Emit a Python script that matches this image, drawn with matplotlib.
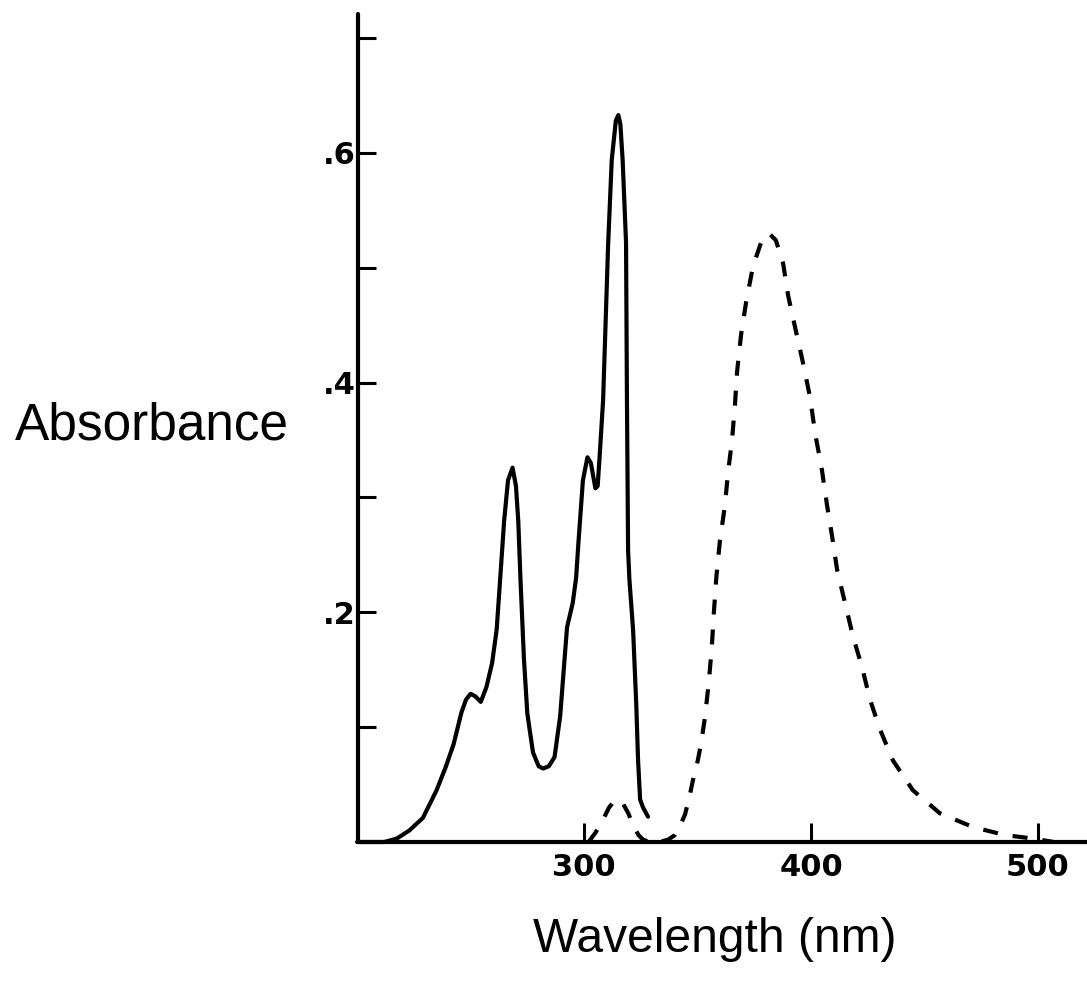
import matplotlib
matplotlib.use("Agg")
import matplotlib.pyplot as plt
from matplotlib.ticker import FixedLocator, FixedFormatter

# --- data ---
solid_wl = [200, 212, 217.5, 223, 229, 235, 239, 242.5, 246, 248, 250, 252, 254.5, 257,
            259.5, 261.5, 263, 264.8, 266.5, 268.5, 270, 271, 272, 273.5, 275, 277.5, 280,
            282, 284.5, 287, 289.5, 290.7, 292.5, 295, 296.5, 297.5, 299.5, 301.5, 303, 305,
            306, 307, 308.4, 310.6, 312.2, 314, 315.1, 316, 317.0, 318.5, 318.9, 319.4, 320,
            321.6, 323, 323.8, 324.7, 326, 328.2]
solid_abs = [0, 0, 0.003, 0.01, 0.021, 0.045, 0.065, 0.085, 0.113, 0.124, 0.129, 0.127,
             0.122, 0.135, 0.156, 0.185, 0.228, 0.28, 0.315, 0.326, 0.31, 0.28, 0.228, 0.16,
             0.112, 0.078, 0.066, 0.064, 0.066, 0.074, 0.11, 0.141, 0.187, 0.208, 0.23, 0.26,
             0.315, 0.335, 0.33, 0.308, 0.31, 0.34, 0.385, 0.52, 0.594, 0.628, 0.633, 0.625,
             0.594, 0.522, 0.385, 0.254, 0.228, 0.185, 0.12, 0.071, 0.037, 0.03, 0.022]

dashed_wl = [302, 305, 308, 311, 313, 315, 317, 319.5, 321.5, 324, 326, 329, 333, 337, 340,
             342, 344.5, 346.5, 348, 350, 351.5, 353.3, 355, 356.3, 357.2, 358.3, 359.9, 362,
             363.4, 365.2, 366.5, 367.4, 369.2, 371.4, 374.4, 378, 381.5, 384.5, 387.7, 389.9,
             393, 396.5, 399.6, 401.8, 404.8, 407, 409.3, 411.5, 415, 418.5, 422.5, 426, 430.4,
             436.1, 444.9, 456.8, 471.4, 485.5, 497.8, 507]
dashed_abs = [0, 0.008, 0.018, 0.03, 0.035, 0.037, 0.034, 0.025, 0.015, 0.006, 0.002, 0, 0,
              0.002, 0.006, 0.013, 0.024, 0.04, 0.054, 0.07, 0.085, 0.109, 0.14, 0.17, 0.2,
              0.231, 0.263, 0.292, 0.321, 0.35, 0.381, 0.409, 0.442, 0.47, 0.501, 0.522, 0.53,
              0.524, 0.504, 0.476, 0.448, 0.417, 0.387, 0.356, 0.324, 0.294, 0.266, 0.237,
              0.208, 0.179, 0.152, 0.124, 0.098, 0.071, 0.045, 0.025, 0.013, 0.006, 0.003, 0]

x_ticks = [300, 400, 500]
x_labels = ["300", "400", "500"]
y_ticks = [0.1, 0.2, 0.3, 0.4, 0.5, 0.6, 0.7]
y_labels = ["", ".2", "", ".4", "", ".6", ""]

W, H = 1087, 981
fig = plt.figure(figsize=(W / 100, H / 100), dpi=100)
ax = fig.add_axes([358 / W, 1 - 842 / H, 1 - 358 / W, (842 - 14) / H])

ax.plot(solid_wl, solid_abs, color="black", lw=3.0, solid_joinstyle="round",
        solid_capstyle="round", clip_on=False)
ax.plot(dashed_wl, dashed_abs, color="black", lw=3.0, dashes=(3.6, 3.6),
        dash_capstyle="butt", clip_on=False)

ax.set_xlim(200.4, 521.6)
ax.set_ylim(0, 0.721)

for s in ["top", "right"]:
    ax.spines[s].set_visible(False)
for s in ["left", "bottom"]:
    ax.spines[s].set_linewidth(3.0)
    ax.spines[s].set_capstyle("round")

ax.xaxis.set_major_locator(FixedLocator(x_ticks))
ax.xaxis.set_major_formatter(FixedFormatter(x_labels))
ax.yaxis.set_major_locator(FixedLocator(y_ticks))
ax.yaxis.set_major_formatter(FixedFormatter(y_labels))

ax.tick_params(axis="x", direction="in", length=14, width=2.2, pad=8,
               labelsize=22)
ax.tick_params(axis="y", direction="in", length=13, width=2.2, pad=1.5,
               labelsize=22)
for lab in ax.get_xticklabels() + ax.get_yticklabels():
    lab.set_fontweight("bold")
    lab.set_family("DejaVu Sans")

fam = ["Liberation Sans", "DejaVu Sans"]
fig.text(15 / W, 1 - 440 / H, "Absorbance", family=fam, fontsize=37,
         ha="left", va="baseline")
fig.text(715 / W, 1 - 952 / H, "Wavelength (nm)", family=fam, fontsize=34.5,
         ha="center", va="baseline")

fig.savefig("out.png", dpi=100)
